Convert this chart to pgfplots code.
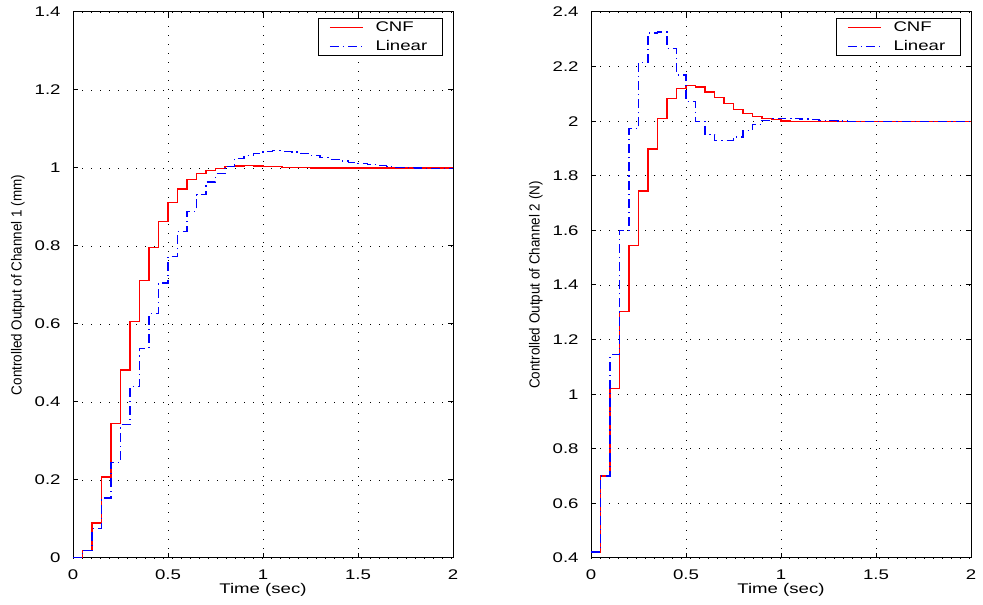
\documentclass[border=0pt]{standalone}
\usepackage{fontspec}
\setmainfont{Liberation Sans}[FakeStretch=1.33]
\newfontfamily\ylabfont{Liberation Sans}[FakeStretch=0.92]
\usepackage{pgfplots}
\pgfplotsset{compat=1.18}
\pgfplotsset{legend image code/.code={\draw[#1] (0pt,0pt) -- (16.5pt,0pt);}}
\pgfplotsset{
 mstyle/.style={
  scale only axis, width=190pt, height=273pt,
  xmin=0, xmax=2, xtick={0,0.5,1,1.5,2},
  tick align=inside, major tick length=2.5pt,
  xtick pos=both, ytick pos=both,
  axis line style={line width=0.5pt},
  every tick/.style={black, line width=0.5pt},
  grid=major,
  major grid style={black, line width=0.45pt, dash pattern=on 0.5pt off 4pt},
  /pgf/number format/assume math mode=true,
  tick label style={font=\fontsize{7}{8}\selectfont},
  xticklabel style={yshift=-2.5pt},
  yticklabel style={xshift=-2.7pt},
  xlabel style={font=\fontsize{7}{8}\selectfont, at={(axis description cs:0.5,-0.0586)}, anchor=center},
  ylabel style={font=\ylabfont\fontsize{7.3}{8}\selectfont, at={(axis description cs:-0.145,0.5)}, anchor=center},
  legend style={at={(rel axis cs:1,1)}, anchor=north east, xshift=-5pt, yshift=-3pt,
    draw, line width=0.5pt, inner xsep=5.5pt, inner ysep=1pt, row sep=2.5pt,
    font=\fontsize{7}{8}\selectfont,
    nodes={inner sep=0pt, text height=5.5pt, text depth=1.5pt}},
  legend cell align=left,
 },
}
\begin{document}
\begin{tikzpicture}
\path[use as bounding box] (0,0) rectangle (491.5pt,302pt);
\begin{axis}[mstyle, at={(36.5pt,23pt)}, anchor=south west,
  ymin=0, ymax=1.4, ytick={0,0.2,0.4,0.6,0.8,1,1.2,1.4},
  xlabel={Time (sec)}, ylabel={Controlled Output of Channel 1 (mm)}]
\addplot[red, line width=0.65pt, const plot] coordinates {
(0,0) (0.05,0.02) (0.1,0.09) (0.15,0.208) (0.2,0.345) (0.25,0.482) (0.3,0.607)
(0.35,0.712) (0.4,0.797) (0.45,0.863) (0.5,0.911) (0.55,0.946) (0.6,0.970)
(0.65,0.985) (0.7,0.993) (0.75,0.999) (0.8,1.003) (0.85,1.005) (0.9,1.006)
(0.95,1.005) (1.0,1.004) (1.05,1.003) (1.1,1.002) (1.15,1.001) (1.2,1.001)
(1.25,1.0) (1.3,1.0) (1.4,1.0) (1.5,1.0) (1.6,1.0) (1.7,1.0) (1.8,1.0) (1.9,1.0) (2.0,1.0)};
\addplot[blue, line width=0.6pt, dash pattern=on 4.5pt off 2pt on 0.6pt off 2pt, const plot] coordinates {
(0,0) (0.05,0.02) (0.1,0.075) (0.15,0.154) (0.2,0.244) (0.25,0.342) (0.3,0.44)
(0.35,0.538) (0.4,0.626) (0.45,0.705) (0.5,0.774) (0.55,0.838) (0.6,0.889)
(0.65,0.932) (0.7,0.964) (0.75,0.985) (0.8,1.004) (0.85,1.024) (0.9,1.032)
(0.95,1.038) (1.0,1.043) (1.05,1.044) (1.1,1.043) (1.15,1.041) (1.2,1.037)
(1.25,1.032) (1.3,1.027) (1.35,1.022) (1.4,1.018) (1.45,1.014) (1.5,1.011)
(1.55,1.008) (1.6,1.006) (1.65,1.004) (1.7,1.002) (1.75,1.001) (1.8,1.0)
(1.85,0.999) (1.9,0.999) (1.95,0.999) (2.0,0.999)};
\legend{\hspace*{6pt}\makebox[28pt][l]{CNF},\hspace*{6pt}\makebox[28pt][l]{Linear}}
\end{axis}
\begin{axis}[mstyle, at={(295.5pt,23pt)}, anchor=south west,
  ymin=0.4, ymax=2.4, ytick={0.4,0.6,0.8,1,1.2,1.4,1.6,1.8,2,2.2,2.4},
  xlabel={Time (sec)}, ylabel={Controlled Output of Channel 2 (N)}]
\addplot[red, line width=0.65pt, const plot] coordinates {
(0,0.422) (0.05,0.70) (0.1,1.022) (0.15,1.304) (0.2,1.544) (0.25,1.744) (0.3,1.898)
(0.35,2.010) (0.4,2.082) (0.45,2.120) (0.5,2.131) (0.55,2.125) (0.6,2.107)
(0.65,2.086) (0.7,2.064) (0.75,2.044) (0.8,2.029) (0.85,2.018) (0.9,2.010)
(0.95,2.005) (1.0,2.001) (1.05,2.0) (1.1,2.0) (1.2,2.0) (1.3,2.0) (1.4,2.0)
(1.5,2.0) (1.6,2.0) (1.7,2.0) (1.8,2.0) (1.9,2.0) (2.0,2.0)};
\addplot[blue, line width=0.6pt, dash pattern=on 4.5pt off 2pt on 0.6pt off 2pt, const plot] coordinates {
(0,0.422) (0.05,0.70) (0.1,1.144) (0.15,1.600) (0.2,1.972) (0.25,2.216) (0.3,2.323)
(0.35,2.327) (0.4,2.265) (0.45,2.169) (0.5,2.072) (0.55,1.999) (0.6,1.951)
(0.65,1.929) (0.7,1.929) (0.75,1.942) (0.8,1.967) (0.85,1.989) (0.9,2.003)
(0.95,2.009) (1.0,2.011) (1.05,2.010) (1.1,2.008) (1.15,2.006) (1.2,2.004)
(1.25,2.002) (1.3,2.001) (1.35,2.0) (1.4,2.0) (1.5,2.0) (1.6,2.0) (1.7,2.0)
(1.8,2.0) (1.9,2.0) (2.0,2.0)};
\legend{\hspace*{6pt}\makebox[28pt][l]{CNF},\hspace*{6pt}\makebox[28pt][l]{Linear}}
\end{axis}
\end{tikzpicture}
\end{document}
